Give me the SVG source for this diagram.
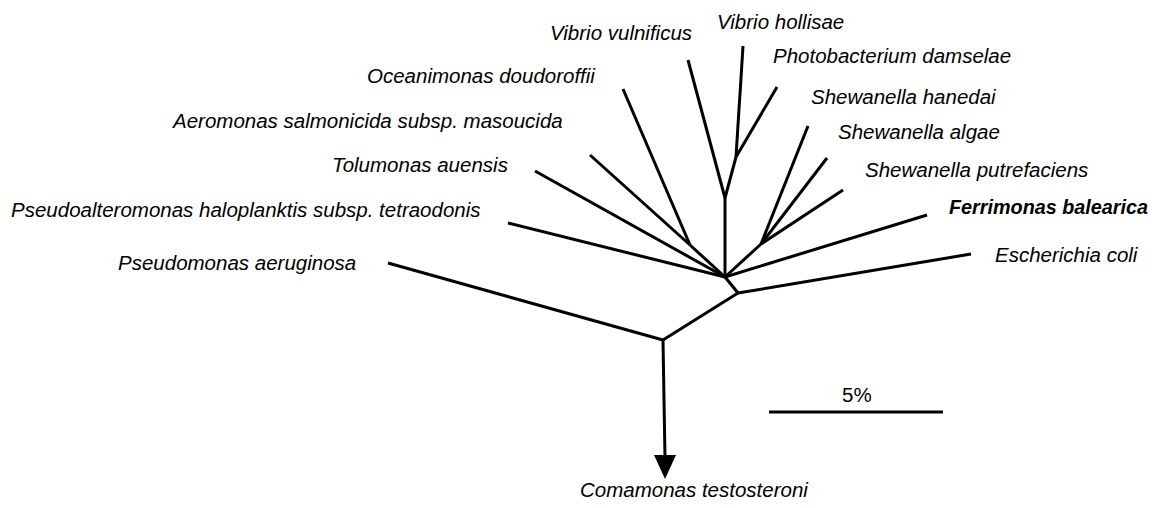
<svg xmlns="http://www.w3.org/2000/svg" width="1162" height="508" viewBox="0 0 1162 508">
<style>
.t{font-family:"Liberation Sans",Arial,sans-serif;font-size:20.5px;font-style:italic;fill:#000}
.b{font-weight:bold;font-size:19.8px}
.r{font-style:normal}
.e{stroke:#000;stroke-width:3;fill:none;stroke-linecap:butt;stroke-linejoin:miter}
</style>
<rect width="1162" height="508" fill="#fff"/>
<g id="connectors" class="e">
<line x1="663" y1="340" x2="665" y2="458"/>
<polygon points="654,455 676,455 665,479" fill="#000" stroke="none"/>
<line x1="663" y1="340" x2="388" y2="263"/>
<line x1="663" y1="340" x2="738" y2="293"/>
<line x1="738" y1="293" x2="971" y2="254"/>
<line x1="738" y1="293" x2="725" y2="277"/>
<line x1="725" y1="277" x2="927" y2="215"/>
<line x1="725" y1="277" x2="761" y2="244"/>
<line x1="761" y1="244" x2="808" y2="126"/>
<line x1="761" y1="244" x2="827" y2="158"/>
<line x1="761" y1="244" x2="843" y2="190"/>
<line x1="725" y1="277" x2="725" y2="198"/>
<line x1="725" y1="198" x2="688" y2="60"/>
<line x1="725" y1="198" x2="736" y2="157"/>
<line x1="736" y1="157" x2="743" y2="46"/>
<line x1="736" y1="157" x2="777" y2="87"/>
<line x1="725" y1="277" x2="690" y2="245"/>
<line x1="690" y1="245" x2="623" y2="89"/>
<line x1="690" y1="245" x2="590" y2="155"/>
<line x1="725" y1="277" x2="535" y2="171"/>
<line x1="725" y1="277" x2="508" y2="223"/>
<line x1="769" y1="412" x2="943" y2="412"/>
</g>
<g id="n-vvulnificus"><text class="t" x="550" y="40">Vibrio vulnificus</text></g>
<g id="n-vhollisae"><text class="t" x="717" y="29">Vibrio hollisae</text></g>
<g id="n-photobacterium"><text class="t" x="773" y="63">Photobacterium damselae</text></g>
<g id="n-oceanimonas"><text class="t" x="367" y="83">Oceanimonas doudoroffii</text></g>
<g id="n-shanedai"><text class="t" x="811" y="104">Shewanella hanedai</text></g>
<g id="n-aeromonas"><text class="t" x="173" y="128">Aeromonas salmonicida subsp. masoucida</text></g>
<g id="n-salgae"><text class="t" x="838" y="139">Shewanella algae</text></g>
<g id="n-tolumonas"><text class="t" x="332" y="172">Tolumonas auensis</text></g>
<g id="n-sputrefaciens"><text class="t" x="865" y="177">Shewanella putrefaciens</text></g>
<g id="n-pseudoalteromonas"><text class="t" x="11" y="217">Pseudoalteromonas haloplanktis subsp. tetraodonis</text></g>
<g id="n-ferrimonas"><text class="t b" x="949" y="214">Ferrimonas balearica</text></g>
<g id="n-ecoli"><text class="t" x="995" y="262">Escherichia coli</text></g>
<g id="n-pseudomonas"><text class="t" x="118" y="270">Pseudomonas aeruginosa</text></g>
<g id="n-comamonas"><text class="t" x="580" y="497">Comamonas testosteroni</text></g>
<g id="scale"><text class="t r" x="842" y="402" font-size="19">5%</text></g>
</svg>
